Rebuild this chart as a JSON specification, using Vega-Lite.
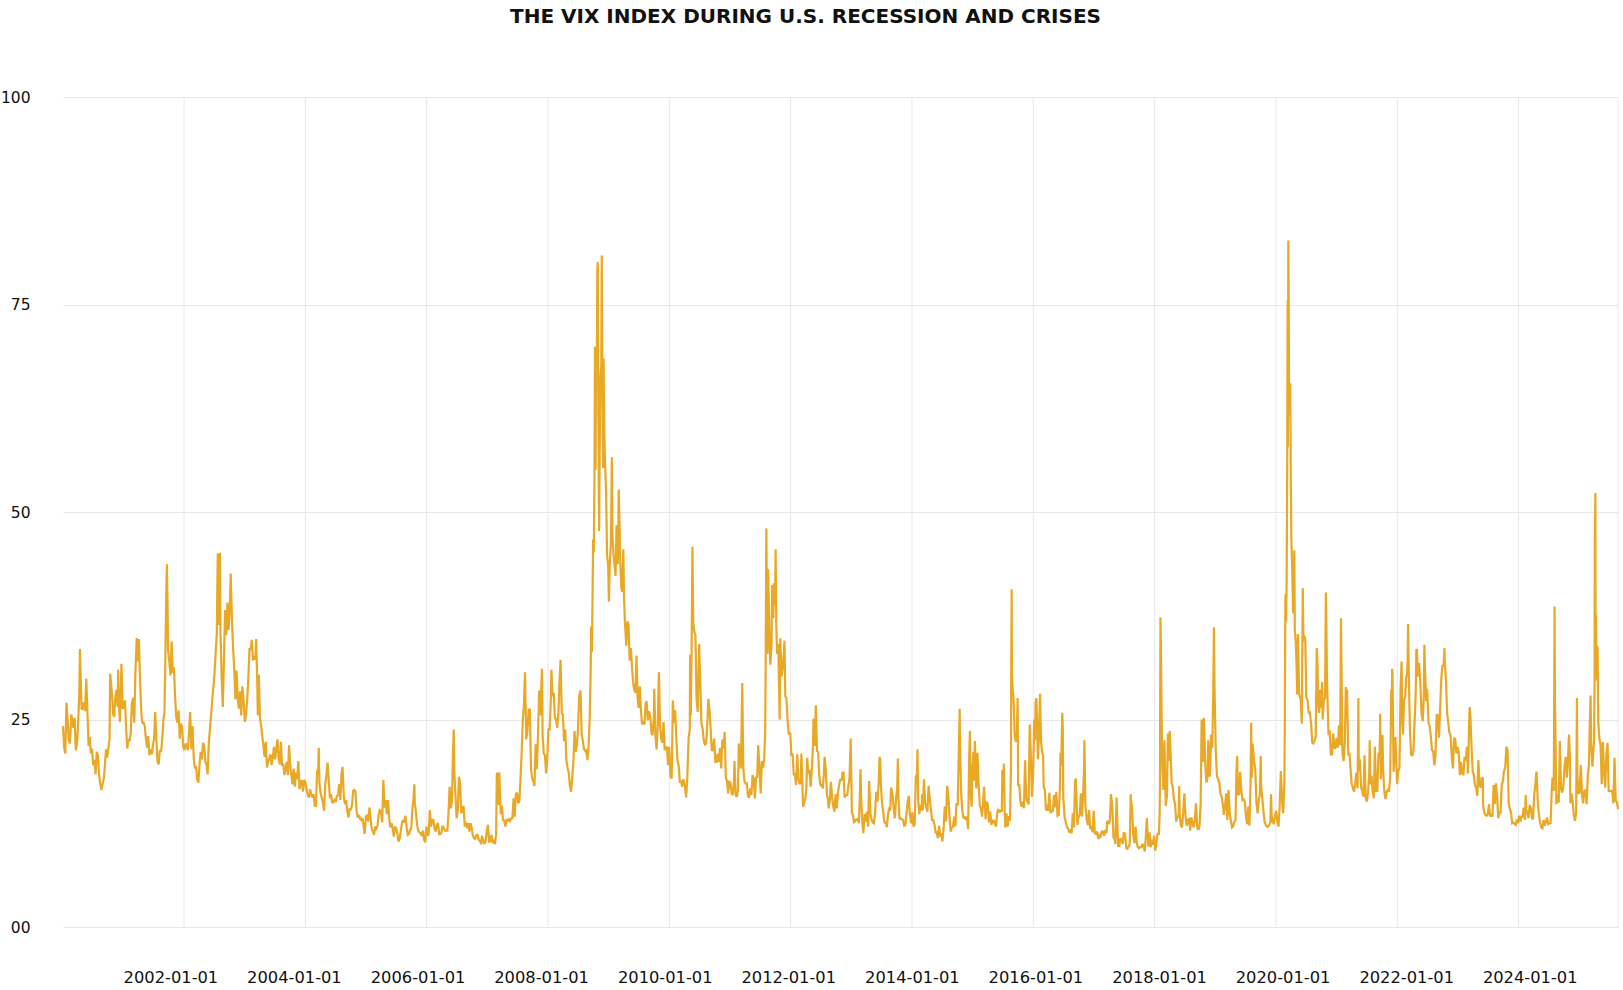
{
  "$schema": "https://vega.github.io/schema/vega-lite/v6.json",
  "width": 1555,
  "height": 830,
  "autosize": {"type": "none"},
  "padding": {"left": 63, "top": 97, "right": 5, "bottom": 63},
  "background": "white",
  "title": {
    "text": "THE VIX INDEX DURING U.S. RECESSION AND CRISES",
    "font": "DejaVu Sans",
    "fontSize": 20,
    "fontWeight": "bold",
    "color": "#111111",
    "anchor": "middle",
    "offset": 63,
    "dx": -35
  },
  "config": {
    "view": {"stroke": null},
    "font": "DejaVu Sans"
  },
  "datasets": {
    "grid": [
      {"t": "2002-01-01"}, {"t": "2004-01-01"}, {"t": "2006-01-01"}, {"t": "2008-01-01"},
      {"t": "2010-01-01"}, {"t": "2012-01-01"}, {"t": "2014-01-01"}, {"t": "2016-01-01"},
      {"t": "2018-01-01"}, {"t": "2020-01-01"}, {"t": "2022-01-01"}, {"t": "2024-01-01"},
      {"t": "2025-08-22"}
    ]
  },
  "resolve": {"scale": {"x": "independent"}, "axis": {"x": "independent"}},
  "layer": [
    {
      "data": {"name": "grid"},
      "mark": {"type": "rule", "color": "#e8e8e8", "strokeWidth": 1},
      "encoding": {
        "x": {
          "field": "t", "type": "temporal",
          "scale": {"domain": [{"year": 2000, "month": 1, "date": 3}, {"year": 2025, "month": 8, "date": 22}], "nice": false},
          "axis": null
        }
      }
    },
    {
      "data": {
        "values": "d,v\n2000-01-03,24.2\n2000-01-10,21.7\n2000-01-17,20.9\n2000-01-24,27.0\n2000-01-31,24.9\n2000-02-07,22.5\n2000-02-14,22.1\n2000-02-22,25.6\n2000-02-28,24.9\n2000-03-06,24.0\n2000-03-13,25.2\n2000-03-20,21.3\n2000-03-27,22.0\n2000-04-03,24.6\n2000-04-10,28.0\n2000-04-14,33.5\n2000-04-17,31.1\n2000-04-24,26.2\n2000-05-01,26.3\n2000-05-08,27.1\n2000-05-15,26.0\n2000-05-22,29.9\n2000-05-30,25.4\n2000-06-05,21.8\n2000-06-12,22.9\n2000-06-19,20.9\n2000-06-26,21.5\n2000-07-03,19.5\n2000-07-10,20.1\n2000-07-17,18.4\n2000-07-24,21.1\n2000-07-31,20.7\n2000-08-07,18.4\n2000-08-14,17.3\n2000-08-21,16.5\n2000-08-28,17.2\n2000-09-05,17.9\n2000-09-11,19.4\n2000-09-18,21.4\n2000-09-25,20.4\n2000-10-02,21.5\n2000-10-09,22.6\n2000-10-13,30.5\n2000-10-18,29.4\n2000-10-25,27.8\n2000-10-30,25.7\n2000-11-06,25.3\n2000-11-13,27.6\n2000-11-20,28.6\n2000-11-27,26.5\n2000-11-30,31.0\n2000-12-04,27.0\n2000-12-11,24.7\n2000-12-20,31.7\n2000-12-27,26.3\n2001-01-03,26.6\n2001-01-10,27.3\n2001-01-17,24.0\n2001-01-24,21.5\n2001-01-31,22.6\n2001-02-07,22.4\n2001-02-14,23.4\n2001-02-21,27.0\n2001-02-28,27.6\n2001-03-07,24.6\n2001-03-14,30.7\n2001-03-22,34.8\n2001-03-28,32.0\n2001-04-04,34.7\n2001-04-11,29.8\n2001-04-18,25.9\n2001-04-25,24.5\n2001-05-02,24.7\n2001-05-09,24.2\n2001-05-16,22.7\n2001-05-23,21.6\n2001-05-30,23.0\n2001-06-06,20.7\n2001-06-13,21.4\n2001-06-20,20.8\n2001-06-27,21.8\n2001-07-05,22.8\n2001-07-11,25.9\n2001-07-18,22.7\n2001-07-25,19.9\n2001-08-01,19.6\n2001-08-08,21.3\n2001-08-15,21.1\n2001-08-22,22.4\n2001-08-29,24.9\n2001-09-05,25.9\n2001-09-10,31.8\n2001-09-17,41.8\n2001-09-20,43.7\n2001-09-27,33.3\n2001-10-04,32.0\n2001-10-11,30.3\n2001-10-18,34.4\n2001-10-25,30.6\n2001-11-01,31.3\n2001-11-08,27.7\n2001-11-15,25.3\n2001-11-22,24.6\n2001-11-29,26.1\n2001-12-06,22.7\n2001-12-13,24.5\n2001-12-20,24.1\n2001-12-27,21.7\n2002-01-03,21.3\n2002-01-10,22.1\n2002-01-17,21.9\n2002-01-24,21.3\n2002-01-31,23.6\n2002-02-07,25.9\n2002-02-14,21.4\n2002-02-21,24.2\n2002-02-28,20.4\n2002-03-07,19.1\n2002-03-14,19.4\n2002-03-21,17.8\n2002-03-28,17.4\n2002-04-04,19.5\n2002-04-11,21.1\n2002-04-18,20.2\n2002-04-25,22.2\n2002-05-02,21.8\n2002-05-09,19.9\n2002-05-16,19.6\n2002-05-23,18.4\n2002-05-30,22.2\n2002-06-06,23.9\n2002-06-13,25.6\n2002-06-20,27.5\n2002-06-27,29.0\n2002-07-03,30.5\n2002-07-10,32.9\n2002-07-17,35.3\n2002-07-23,45.0\n2002-07-26,39.9\n2002-07-31,36.4\n2002-08-05,45.1\n2002-08-08,35.6\n2002-08-15,30.4\n2002-08-22,26.5\n2002-08-29,32.0\n2002-09-05,38.2\n2002-09-12,35.2\n2002-09-19,39.1\n2002-09-26,35.8\n2002-10-03,38.3\n2002-10-09,42.6\n2002-10-16,37.2\n2002-10-23,33.7\n2002-10-30,31.1\n2002-11-06,27.4\n2002-11-13,30.9\n2002-11-20,27.6\n2002-11-27,26.3\n2002-12-04,28.4\n2002-12-11,25.5\n2002-12-18,29.0\n2002-12-26,27.1\n2003-01-02,24.7\n2003-01-09,25.6\n2003-01-16,27.3\n2003-01-23,30.0\n2003-01-30,33.6\n2003-02-06,33.4\n2003-02-13,34.6\n2003-02-20,32.1\n2003-02-27,32.6\n2003-03-06,32.2\n2003-03-11,34.7\n2003-03-18,29.3\n2003-03-21,25.5\n2003-03-27,30.4\n2003-04-03,25.2\n2003-04-10,24.2\n2003-04-17,23.0\n2003-04-24,21.8\n2003-05-01,20.5\n2003-05-08,22.3\n2003-05-15,19.2\n2003-05-22,19.9\n2003-05-29,20.3\n2003-06-05,20.8\n2003-06-12,19.5\n2003-06-19,20.4\n2003-06-26,21.7\n2003-07-03,20.2\n2003-07-10,21.4\n2003-07-17,22.6\n2003-07-24,20.4\n2003-07-31,19.6\n2003-08-07,22.3\n2003-08-14,19.4\n2003-08-21,19.7\n2003-08-28,18.3\n2003-09-04,19.0\n2003-09-11,19.9\n2003-09-18,18.3\n2003-09-25,21.9\n2003-10-02,19.6\n2003-10-09,18.3\n2003-10-16,17.2\n2003-10-23,19.1\n2003-10-30,16.9\n2003-11-06,18.6\n2003-11-13,17.8\n2003-11-20,20.0\n2003-11-27,16.6\n2003-12-04,17.4\n2003-12-11,17.7\n2003-12-18,16.3\n2003-12-26,17.7\n2004-01-02,17.4\n2004-01-09,16.5\n2004-01-16,15.9\n2004-01-23,15.6\n2004-01-30,16.6\n2004-02-06,15.9\n2004-02-13,15.6\n2004-02-20,16.0\n2004-02-27,14.6\n2004-03-05,14.6\n2004-03-12,18.7\n2004-03-19,19.2\n2004-03-22,21.6\n2004-03-26,17.3\n2004-04-02,16.1\n2004-04-09,15.6\n2004-04-16,15.0\n2004-04-23,14.0\n2004-04-30,17.2\n2004-05-07,18.3\n2004-05-14,19.8\n2004-05-21,17.6\n2004-05-28,15.5\n2004-06-04,16.0\n2004-06-11,15.0\n2004-06-18,15.0\n2004-06-25,15.3\n2004-07-02,15.1\n2004-07-09,15.8\n2004-07-16,15.9\n2004-07-23,17.2\n2004-07-30,15.3\n2004-08-06,18.5\n2004-08-12,19.3\n2004-08-20,15.7\n2004-08-27,14.8\n2004-09-03,15.3\n2004-09-10,13.9\n2004-09-17,13.2\n2004-09-24,14.3\n2004-10-01,14.1\n2004-10-08,14.7\n2004-10-15,16.4\n2004-10-22,16.5\n2004-10-29,16.3\n2004-11-05,13.9\n2004-11-12,13.2\n2004-11-19,13.5\n2004-11-26,13.0\n2004-12-03,12.9\n2004-12-10,13.1\n2004-12-17,12.2\n2004-12-23,11.2\n2004-12-31,13.3\n2005-01-07,13.5\n2005-01-14,12.7\n2005-01-21,14.4\n2005-01-28,13.2\n2005-02-04,11.8\n2005-02-11,11.5\n2005-02-18,11.1\n2005-02-25,12.1\n2005-03-04,11.9\n2005-03-11,12.2\n2005-03-18,13.6\n2005-03-24,14.1\n2005-03-31,14.0\n2005-04-08,12.6\n2005-04-15,17.7\n2005-04-22,14.4\n2005-04-29,15.3\n2005-05-06,13.6\n2005-05-13,15.3\n2005-05-20,13.1\n2005-05-27,12.0\n2005-06-03,12.5\n2005-06-10,11.9\n2005-06-17,10.9\n2005-06-24,12.0\n2005-07-01,11.9\n2005-07-08,11.3\n2005-07-15,10.3\n2005-07-22,10.6\n2005-07-29,11.6\n2005-08-05,12.5\n2005-08-12,12.9\n2005-08-19,12.6\n2005-08-26,13.4\n2005-09-02,12.0\n2005-09-09,11.1\n2005-09-16,11.2\n2005-09-23,11.7\n2005-09-30,11.9\n2005-10-07,14.3\n2005-10-14,15.6\n2005-10-19,17.2\n2005-10-21,15.0\n2005-10-28,13.9\n2005-11-04,12.3\n2005-11-11,11.6\n2005-11-18,11.4\n2005-11-25,11.3\n2005-12-02,11.0\n2005-12-09,11.6\n2005-12-16,10.5\n2005-12-23,10.2\n2005-12-30,12.1\n2006-01-06,11.0\n2006-01-13,11.2\n2006-01-20,14.1\n2006-01-27,12.1\n2006-02-03,12.9\n2006-02-10,12.9\n2006-02-17,11.9\n2006-02-24,11.5\n2006-03-03,12.3\n2006-03-10,12.5\n2006-03-17,11.2\n2006-03-24,11.2\n2006-03-31,11.4\n2006-04-07,12.2\n2006-04-14,11.9\n2006-04-21,11.6\n2006-04-28,11.6\n2006-05-05,11.6\n2006-05-12,13.6\n2006-05-19,16.9\n2006-05-26,14.3\n2006-06-02,15.1\n2006-06-08,21.0\n2006-06-13,23.8\n2006-06-16,18.8\n2006-06-23,15.9\n2006-06-30,13.1\n2006-07-07,14.0\n2006-07-14,18.1\n2006-07-21,17.4\n2006-07-28,13.7\n2006-08-04,14.1\n2006-08-11,14.6\n2006-08-18,12.1\n2006-08-25,12.6\n2006-09-01,11.9\n2006-09-08,12.5\n2006-09-15,11.5\n2006-09-22,12.5\n2006-09-29,11.9\n2006-10-06,11.0\n2006-10-13,10.7\n2006-10-20,10.6\n2006-10-27,11.1\n2006-11-03,11.1\n2006-11-10,10.5\n2006-11-17,10.4\n2006-11-24,9.97\n2006-11-30,11.0\n2006-12-08,10.3\n2006-12-15,10.0\n2006-12-22,10.4\n2006-12-29,11.6\n2007-01-05,12.3\n2007-01-12,10.2\n2007-01-19,10.4\n2007-01-26,11.1\n2007-02-02,10.1\n2007-02-09,10.5\n2007-02-16,10.0\n2007-02-23,11.2\n2007-02-27,18.3\n2007-03-02,18.6\n2007-03-09,14.7\n2007-03-14,18.6\n2007-03-23,13.6\n2007-03-30,14.6\n2007-04-05,12.9\n2007-04-13,12.8\n2007-04-20,12.1\n2007-04-27,13.0\n2007-05-04,12.8\n2007-05-11,13.0\n2007-05-18,12.8\n2007-05-25,13.1\n2007-06-01,13.1\n2007-06-08,15.5\n2007-06-15,13.3\n2007-06-22,16.0\n2007-06-29,16.2\n2007-07-06,14.9\n2007-07-13,15.2\n2007-07-20,18.0\n2007-07-26,20.7\n2007-07-31,23.5\n2007-08-03,25.2\n2007-08-09,26.5\n2007-08-16,30.7\n2007-08-23,22.6\n2007-08-30,23.5\n2007-09-07,26.2\n2007-09-14,26.2\n2007-09-21,19.0\n2007-09-28,18.0\n2007-10-05,17.5\n2007-10-12,17.0\n2007-10-19,22.0\n2007-10-26,19.0\n2007-11-02,23.0\n2007-11-09,28.5\n2007-11-16,25.5\n2007-11-26,31.1\n2007-11-30,22.9\n2007-12-07,20.9\n2007-12-14,20.7\n2007-12-21,18.5\n2007-12-28,20.3\n2008-01-04,23.9\n2008-01-11,23.7\n2008-01-18,27.2\n2008-01-22,31.0\n2008-01-29,27.8\n2008-02-05,28.2\n2008-02-12,25.2\n2008-02-19,25.0\n2008-02-26,24.0\n2008-03-04,25.8\n2008-03-10,29.4\n2008-03-17,32.2\n2008-03-24,25.8\n2008-03-31,25.6\n2008-04-07,22.4\n2008-04-14,23.8\n2008-04-21,20.1\n2008-04-28,19.2\n2008-05-05,18.6\n2008-05-12,17.1\n2008-05-19,16.3\n2008-05-27,18.2\n2008-06-02,19.7\n2008-06-09,23.6\n2008-06-16,21.1\n2008-06-23,21.9\n2008-06-30,23.9\n2008-07-07,27.8\n2008-07-15,28.5\n2008-07-22,23.3\n2008-07-29,22.4\n2008-08-05,21.4\n2008-08-12,21.2\n2008-08-19,21.3\n2008-08-26,20.1\n2008-09-02,21.9\n2008-09-09,25.5\n2008-09-15,31.7\n2008-09-17,36.2\n2008-09-22,33.1\n2008-09-29,46.7\n2008-10-03,45.1\n2008-10-07,53.7\n2008-10-10,69.9\n2008-10-14,55.1\n2008-10-16,67.6\n2008-10-22,69.7\n2008-10-24,79.1\n2008-10-27,80.1\n2008-10-30,62.9\n2008-11-04,47.7\n2008-11-07,56.1\n2008-11-12,66.5\n2008-11-17,67.6\n2008-11-20,80.9\n2008-11-24,64.7\n2008-11-28,55.3\n2008-12-01,68.5\n2008-12-05,59.9\n2008-12-10,55.7\n2008-12-16,52.4\n2008-12-22,44.9\n2008-12-29,43.4\n2009-01-02,39.2\n2009-01-07,43.4\n2009-01-14,46.4\n2009-01-20,56.6\n2009-01-23,47.3\n2009-01-30,44.8\n2009-02-06,43.4\n2009-02-11,42.3\n2009-02-17,48.4\n2009-02-24,43.7\n2009-02-27,46.4\n2009-03-02,52.7\n2009-03-06,49.3\n2009-03-12,43.6\n2009-03-18,40.8\n2009-03-23,40.4\n2009-03-30,45.5\n2009-04-03,39.7\n2009-04-09,36.5\n2009-04-17,33.9\n2009-04-23,36.8\n2009-04-30,36.5\n2009-05-07,32.1\n2009-05-14,33.6\n2009-05-21,31.4\n2009-05-28,29.4\n2009-06-04,28.6\n2009-06-11,28.2\n2009-06-17,32.7\n2009-06-24,27.6\n2009-06-30,26.4\n2009-07-07,29.0\n2009-07-14,26.0\n2009-07-21,24.4\n2009-07-28,24.6\n2009-08-04,24.4\n2009-08-11,26.9\n2009-08-17,27.2\n2009-08-24,24.9\n2009-08-31,26.0\n2009-09-08,25.3\n2009-09-15,23.4\n2009-09-22,23.1\n2009-09-30,25.6\n2009-10-02,28.7\n2009-10-09,23.1\n2009-10-16,21.4\n2009-10-23,24.2\n2009-10-30,30.7\n2009-11-06,24.2\n2009-11-13,22.7\n2009-11-20,22.2\n2009-11-27,24.7\n2009-12-04,21.3\n2009-12-11,21.6\n2009-12-18,21.7\n2009-12-24,19.5\n2009-12-31,21.7\n2010-01-08,18.1\n2010-01-15,17.9\n2010-01-22,27.3\n2010-01-29,24.6\n2010-02-05,26.1\n2010-02-12,22.7\n2010-02-19,20.0\n2010-02-26,19.5\n2010-03-05,17.4\n2010-03-12,17.6\n2010-03-19,16.9\n2010-03-26,17.8\n2010-04-05,17.0\n2010-04-12,15.6\n2010-04-19,18.0\n2010-04-27,22.8\n2010-05-04,23.8\n2010-05-06,32.8\n2010-05-10,25.5\n2010-05-14,31.2\n2010-05-20,45.8\n2010-05-25,36.6\n2010-06-01,35.5\n2010-06-07,35.2\n2010-06-14,27.4\n2010-06-21,25.9\n2010-06-29,34.1\n2010-07-06,29.7\n2010-07-13,24.6\n2010-07-20,23.9\n2010-07-27,22.5\n2010-08-03,22.0\n2010-08-10,22.1\n2010-08-17,24.3\n2010-08-24,27.5\n2010-08-31,26.1\n2010-09-07,23.8\n2010-09-14,21.2\n2010-09-21,21.4\n2010-09-28,22.7\n2010-10-05,19.9\n2010-10-12,19.9\n2010-10-19,20.9\n2010-10-26,19.9\n2010-11-02,21.6\n2010-11-09,19.1\n2010-11-16,22.6\n2010-11-23,21.5\n2010-11-30,23.5\n2010-12-07,18.0\n2010-12-14,17.6\n2010-12-21,16.1\n2010-12-28,17.5\n2011-01-04,17.4\n2011-01-11,16.1\n2011-01-18,15.9\n2011-01-25,17.6\n2011-01-28,20.0\n2011-02-04,15.9\n2011-02-11,15.7\n2011-02-18,16.4\n2011-02-23,22.1\n2011-03-01,20.7\n2011-03-08,19.1\n2011-03-16,29.4\n2011-03-22,19.2\n2011-03-29,17.6\n2011-04-05,17.3\n2011-04-12,17.3\n2011-04-19,15.8\n2011-04-26,15.6\n2011-05-03,16.7\n2011-05-10,15.9\n2011-05-17,18.3\n2011-05-24,17.8\n2011-05-31,15.5\n2011-06-07,18.1\n2011-06-14,18.0\n2011-06-20,21.9\n2011-06-27,19.3\n2011-07-05,16.1\n2011-07-12,20.0\n2011-07-19,19.2\n2011-07-26,20.2\n2011-08-01,23.4\n2011-08-04,31.7\n2011-08-08,48.0\n2011-08-10,42.9\n2011-08-15,32.9\n2011-08-19,43.1\n2011-08-26,35.6\n2011-09-01,31.6\n2011-09-08,33.9\n2011-09-12,41.2\n2011-09-19,37.2\n2011-09-22,41.4\n2011-09-29,38.8\n2011-10-03,45.5\n2011-10-07,36.2\n2011-10-12,32.9\n2011-10-19,34.1\n2011-10-27,25.0\n2011-10-31,34.8\n2011-11-07,30.2\n2011-11-14,31.1\n2011-11-21,32.9\n2011-11-25,34.5\n2011-11-30,27.8\n2011-12-07,27.6\n2011-12-14,24.9\n2011-12-21,23.2\n2011-12-30,23.4\n2012-01-06,20.6\n2012-01-13,20.9\n2012-01-20,18.3\n2012-01-27,18.5\n2012-02-03,17.1\n2012-02-10,20.8\n2012-02-17,17.8\n2012-02-24,17.3\n2012-03-02,17.3\n2012-03-06,20.9\n2012-03-16,14.5\n2012-03-23,15.0\n2012-03-30,15.5\n2012-04-05,16.7\n2012-04-10,20.4\n2012-04-17,18.5\n2012-04-24,18.9\n2012-05-01,16.9\n2012-05-08,19.1\n2012-05-15,21.9\n2012-05-18,25.1\n2012-05-25,21.8\n2012-06-01,26.7\n2012-06-08,21.2\n2012-06-15,21.1\n2012-06-22,18.1\n2012-06-29,17.1\n2012-07-06,17.1\n2012-07-13,16.7\n2012-07-20,18.6\n2012-07-24,20.5\n2012-07-31,18.9\n2012-08-07,15.9\n2012-08-14,15.3\n2012-08-17,14.3\n2012-08-24,15.2\n2012-08-31,17.5\n2012-09-07,15.6\n2012-09-14,14.5\n2012-09-21,13.9\n2012-09-28,16.0\n2012-10-05,14.3\n2012-10-12,16.1\n2012-10-19,17.1\n2012-10-26,17.8\n2012-11-02,17.6\n2012-11-09,18.6\n2012-11-15,18.6\n2012-11-21,15.6\n2012-11-30,15.9\n2012-12-07,15.9\n2012-12-14,17.0\n2012-12-21,18.0\n2012-12-28,22.7\n2013-01-04,13.8\n2013-01-11,13.4\n2013-01-18,12.5\n2013-01-25,12.9\n2013-02-01,12.9\n2013-02-08,13.0\n2013-02-15,12.5\n2013-02-20,15.2\n2013-02-25,19.0\n2013-03-01,15.4\n2013-03-08,12.6\n2013-03-14,11.3\n2013-03-22,13.6\n2013-03-28,12.7\n2013-04-05,13.9\n2013-04-12,12.1\n2013-04-18,17.6\n2013-04-26,13.6\n2013-05-03,12.9\n2013-05-10,12.6\n2013-05-17,12.5\n2013-05-24,13.8\n2013-05-31,16.3\n2013-06-07,15.1\n2013-06-14,17.2\n2013-06-20,20.5\n2013-06-24,20.1\n2013-06-28,16.9\n2013-07-05,14.9\n2013-07-12,13.8\n2013-07-19,12.5\n2013-07-26,12.7\n2013-08-02,12.0\n2013-08-09,13.4\n2013-08-16,14.4\n2013-08-23,14.0\n2013-08-28,16.8\n2013-09-06,15.9\n2013-09-13,14.2\n2013-09-20,13.1\n2013-09-27,15.5\n2013-10-04,16.7\n2013-10-08,20.3\n2013-10-11,15.7\n2013-10-18,13.0\n2013-10-25,13.1\n2013-11-01,13.0\n2013-11-08,12.9\n2013-11-15,12.2\n2013-11-22,12.3\n2013-11-29,13.7\n2013-12-06,15.1\n2013-12-13,15.8\n2013-12-18,13.8\n2013-12-27,12.5\n2014-01-03,13.8\n2014-01-10,12.1\n2014-01-17,12.4\n2014-01-24,18.1\n2014-01-31,18.4\n2014-02-03,21.4\n2014-02-07,15.3\n2014-02-14,13.6\n2014-02-21,14.7\n2014-02-28,14.0\n2014-03-03,16.0\n2014-03-07,14.1\n2014-03-14,17.8\n2014-03-21,15.0\n2014-03-28,14.4\n2014-04-04,13.9\n2014-04-11,17.0\n2014-04-15,16.1\n2014-04-25,14.1\n2014-05-02,12.9\n2014-05-09,12.9\n2014-05-16,12.4\n2014-05-23,11.4\n2014-05-30,11.4\n2014-06-06,10.7\n2014-06-13,12.2\n2014-06-20,10.9\n2014-06-27,11.3\n2014-07-03,10.3\n2014-07-11,12.1\n2014-07-17,14.5\n2014-07-25,12.7\n2014-07-31,16.9\n2014-08-01,17.0\n2014-08-08,15.8\n2014-08-15,13.2\n2014-08-22,11.5\n2014-08-29,12.0\n2014-09-05,12.1\n2014-09-12,13.3\n2014-09-19,12.1\n2014-09-26,14.9\n2014-10-03,14.6\n2014-10-10,21.2\n2014-10-15,26.3\n2014-10-17,22.0\n2014-10-24,16.1\n2014-10-31,14.0\n2014-11-07,13.1\n2014-11-14,13.3\n2014-11-21,12.9\n2014-11-28,13.3\n2014-12-05,11.8\n2014-12-12,21.1\n2014-12-16,23.6\n2014-12-19,16.5\n2014-12-26,14.5\n2014-12-31,19.2\n2015-01-06,21.1\n2015-01-09,17.6\n2015-01-15,22.4\n2015-01-23,16.7\n2015-01-30,21.0\n2015-02-06,17.3\n2015-02-13,14.7\n2015-02-20,14.3\n2015-02-27,13.3\n2015-03-06,15.2\n2015-03-11,16.9\n2015-03-20,13.0\n2015-03-27,15.1\n2015-04-02,14.7\n2015-04-10,12.6\n2015-04-17,13.9\n2015-04-24,12.3\n2015-05-01,12.7\n2015-05-08,12.9\n2015-05-15,12.4\n2015-05-22,12.1\n2015-05-29,13.8\n2015-06-05,14.2\n2015-06-12,13.8\n2015-06-19,14.0\n2015-06-26,14.0\n2015-06-29,18.9\n2015-07-02,16.1\n2015-07-08,19.7\n2015-07-13,13.9\n2015-07-17,12.0\n2015-07-24,13.7\n2015-07-31,12.1\n2015-08-07,13.4\n2015-08-14,12.8\n2015-08-20,19.1\n2015-08-21,28.0\n2015-08-24,40.7\n2015-08-26,30.3\n2015-08-31,28.4\n2015-09-04,27.8\n2015-09-11,23.2\n2015-09-18,22.3\n2015-09-25,23.6\n2015-09-29,27.6\n2015-10-02,17.1\n2015-10-09,17.1\n2015-10-16,15.1\n2015-10-23,14.5\n2015-10-30,15.1\n2015-11-06,14.3\n2015-11-13,20.1\n2015-11-20,15.5\n2015-11-27,15.1\n2015-12-04,14.8\n2015-12-11,24.4\n2015-12-14,22.7\n2015-12-18,20.7\n2015-12-24,15.7\n2015-12-31,18.2\n2016-01-07,25.0\n2016-01-12,22.5\n2016-01-15,27.0\n2016-01-20,27.6\n2016-01-25,24.2\n2016-01-29,20.2\n2016-02-05,23.4\n2016-02-11,28.1\n2016-02-17,22.3\n2016-02-24,21.1\n2016-02-29,20.6\n2016-03-04,16.9\n2016-03-11,16.5\n2016-03-18,14.0\n2016-03-24,14.7\n2016-03-31,14.0\n2016-04-07,16.2\n2016-04-14,13.7\n2016-04-21,14.0\n2016-04-28,14.0\n2016-05-05,15.9\n2016-05-12,14.4\n2016-05-19,16.3\n2016-05-26,13.4\n2016-06-03,13.5\n2016-06-10,17.0\n2016-06-13,21.0\n2016-06-17,19.4\n2016-06-24,25.8\n2016-06-27,23.9\n2016-06-30,15.6\n2016-07-08,13.2\n2016-07-15,12.7\n2016-07-22,12.0\n2016-07-29,11.9\n2016-08-05,11.4\n2016-08-12,11.6\n2016-08-19,11.3\n2016-08-26,13.7\n2016-09-02,12.0\n2016-09-09,17.5\n2016-09-13,17.9\n2016-09-23,12.3\n2016-09-30,13.3\n2016-10-07,13.5\n2016-10-14,16.1\n2016-10-21,13.3\n2016-10-28,16.2\n2016-11-02,19.3\n2016-11-04,22.5\n2016-11-10,14.7\n2016-11-18,12.9\n2016-11-25,12.3\n2016-12-02,14.1\n2016-12-09,11.8\n2016-12-16,12.2\n2016-12-23,11.4\n2016-12-30,14.0\n2017-01-06,11.3\n2017-01-13,11.2\n2017-01-20,11.5\n2017-01-27,10.6\n2017-02-03,11.0\n2017-02-10,10.9\n2017-02-17,11.5\n2017-02-24,11.5\n2017-03-03,11.0\n2017-03-10,11.7\n2017-03-17,11.3\n2017-03-22,12.8\n2017-03-31,12.4\n2017-04-07,12.9\n2017-04-13,16.0\n2017-04-21,14.6\n2017-04-28,10.8\n2017-05-05,10.6\n2017-05-09,10.0\n2017-05-17,15.6\n2017-05-26,9.8\n2017-06-02,9.75\n2017-06-09,10.7\n2017-06-16,10.4\n2017-06-23,10.0\n2017-06-29,11.4\n2017-07-07,11.2\n2017-07-14,9.5\n2017-07-21,9.4\n2017-07-26,9.6\n2017-08-04,10.0\n2017-08-10,16.0\n2017-08-11,15.5\n2017-08-18,14.3\n2017-08-25,11.3\n2017-09-01,10.1\n2017-09-08,12.1\n2017-09-15,10.2\n2017-09-22,9.6\n2017-09-29,9.5\n2017-10-06,9.65\n2017-10-13,9.6\n2017-10-20,10.0\n2017-10-27,9.8\n2017-11-03,9.1\n2017-11-10,11.3\n2017-11-15,13.1\n2017-11-24,9.7\n2017-12-01,11.4\n2017-12-08,9.6\n2017-12-15,10.5\n2017-12-22,9.9\n2017-12-29,11.0\n2018-01-05,9.2\n2018-01-12,10.2\n2018-01-19,11.3\n2018-01-26,11.1\n2018-01-31,13.5\n2018-02-02,17.3\n2018-02-05,37.3\n2018-02-08,33.5\n2018-02-12,25.6\n2018-02-16,19.5\n2018-02-23,16.5\n2018-03-01,22.5\n2018-03-09,14.6\n2018-03-16,15.8\n2018-03-22,23.3\n2018-03-29,20.0\n2018-04-02,23.6\n2018-04-06,21.5\n2018-04-13,17.4\n2018-04-20,16.9\n2018-04-27,15.4\n2018-05-04,14.8\n2018-05-11,12.7\n2018-05-18,13.4\n2018-05-25,13.2\n2018-05-29,17.0\n2018-06-01,13.5\n2018-06-08,12.2\n2018-06-15,12.0\n2018-06-22,13.8\n2018-06-29,16.1\n2018-07-06,13.4\n2018-07-13,12.2\n2018-07-20,12.9\n2018-07-27,13.0\n2018-08-03,11.6\n2018-08-10,13.2\n2018-08-17,12.6\n2018-08-24,12.0\n2018-08-31,12.9\n2018-09-07,14.9\n2018-09-14,12.1\n2018-09-21,11.7\n2018-09-28,12.1\n2018-10-05,14.8\n2018-10-11,25.0\n2018-10-12,21.3\n2018-10-19,19.9\n2018-10-24,25.2\n2018-10-31,21.2\n2018-11-02,19.5\n2018-11-09,17.4\n2018-11-16,18.1\n2018-11-20,22.5\n2018-11-30,18.1\n2018-12-04,20.7\n2018-12-07,23.2\n2018-12-14,21.6\n2018-12-20,28.4\n2018-12-24,36.1\n2018-12-28,28.3\n2019-01-04,21.4\n2019-01-11,18.2\n2019-01-18,17.8\n2019-01-25,17.4\n2019-02-01,16.1\n2019-02-08,15.7\n2019-02-15,14.9\n2019-02-22,13.5\n2019-03-01,14.6\n2019-03-08,16.1\n2019-03-15,12.9\n2019-03-22,16.5\n2019-03-29,13.7\n2019-04-05,12.8\n2019-04-12,12.0\n2019-04-18,12.1\n2019-04-26,12.7\n2019-05-03,12.9\n2019-05-09,19.1\n2019-05-13,20.6\n2019-05-17,16.0\n2019-05-24,15.9\n2019-05-31,18.7\n2019-06-07,16.3\n2019-06-14,15.3\n2019-06-21,15.4\n2019-06-28,15.1\n2019-07-05,13.3\n2019-07-12,12.4\n2019-07-19,14.5\n2019-07-26,12.2\n2019-08-02,17.6\n2019-08-05,24.6\n2019-08-09,18.0\n2019-08-14,22.1\n2019-08-23,19.9\n2019-08-30,19.0\n2019-09-06,15.0\n2019-09-13,13.7\n2019-09-20,15.3\n2019-09-27,16.0\n2019-10-02,20.6\n2019-10-04,17.0\n2019-10-11,15.6\n2019-10-18,14.0\n2019-10-25,12.7\n2019-11-01,12.3\n2019-11-08,12.1\n2019-11-15,12.1\n2019-11-22,12.3\n2019-11-29,12.6\n2019-12-03,16.0\n2019-12-06,13.6\n2019-12-13,12.6\n2019-12-20,12.5\n2019-12-27,13.4\n2020-01-03,14.0\n2020-01-10,12.6\n2020-01-17,12.1\n2020-01-24,14.6\n2020-01-31,18.8\n2020-02-07,15.5\n2020-02-14,13.7\n2020-02-21,17.1\n2020-02-24,25.0\n2020-02-27,39.2\n2020-02-28,40.1\n2020-03-03,36.8\n2020-03-06,41.9\n2020-03-09,54.5\n2020-03-12,75.5\n2020-03-13,57.8\n2020-03-16,82.7\n2020-03-18,76.5\n2020-03-20,66.0\n2020-03-24,61.7\n2020-03-27,65.5\n2020-03-31,53.5\n2020-04-03,46.8\n2020-04-08,43.4\n2020-04-14,37.8\n2020-04-17,38.2\n2020-04-21,45.4\n2020-04-24,35.9\n2020-04-30,34.2\n2020-05-05,31.2\n2020-05-08,28.0\n2020-05-13,35.3\n2020-05-20,28.0\n2020-05-29,27.5\n2020-06-05,24.5\n2020-06-11,40.8\n2020-06-15,34.4\n2020-06-19,35.1\n2020-06-26,34.7\n2020-07-02,27.7\n2020-07-10,27.3\n2020-07-17,25.7\n2020-07-24,25.8\n2020-07-31,24.5\n2020-08-07,22.2\n2020-08-14,22.1\n2020-08-21,22.5\n2020-08-28,23.0\n2020-09-03,33.6\n2020-09-08,31.5\n2020-09-11,26.9\n2020-09-18,25.8\n2020-09-23,28.6\n2020-09-30,26.4\n2020-10-06,29.5\n2020-10-09,25.0\n2020-10-16,27.4\n2020-10-23,27.6\n2020-10-28,40.3\n2020-10-30,38.0\n2020-11-04,29.6\n2020-11-09,25.8\n2020-11-13,23.1\n2020-11-20,23.7\n2020-11-27,20.8\n2020-12-04,20.8\n2020-12-11,23.3\n2020-12-18,21.6\n2020-12-24,21.5\n2020-12-31,22.8\n2021-01-08,21.6\n2021-01-15,24.3\n2021-01-22,21.9\n2021-01-27,37.2\n2021-01-29,33.1\n2021-02-05,20.9\n2021-02-12,20.0\n2021-02-19,22.1\n2021-02-25,28.9\n2021-02-26,28.0\n2021-03-04,28.6\n2021-03-12,20.7\n2021-03-19,21.0\n2021-03-26,18.9\n2021-04-01,17.3\n2021-04-09,16.7\n2021-04-16,16.3\n2021-04-23,17.3\n2021-04-30,18.6\n2021-05-07,16.7\n2021-05-12,27.6\n2021-05-14,18.8\n2021-05-21,20.2\n2021-05-28,16.8\n2021-06-04,16.4\n2021-06-11,15.7\n2021-06-18,20.7\n2021-06-25,15.6\n2021-07-02,15.1\n2021-07-09,16.2\n2021-07-16,18.5\n2021-07-19,22.5\n2021-07-23,17.2\n2021-07-30,18.2\n2021-08-06,16.2\n2021-08-13,15.5\n2021-08-19,21.7\n2021-08-27,16.4\n2021-09-03,16.4\n2021-09-10,21.0\n2021-09-17,20.8\n2021-09-20,25.7\n2021-09-24,17.8\n2021-09-30,23.1\n2021-10-04,23.0\n2021-10-08,18.8\n2021-10-15,16.3\n2021-10-22,15.4\n2021-10-29,16.3\n2021-11-05,16.5\n2021-11-12,16.3\n2021-11-19,17.9\n2021-11-26,28.6\n2021-11-30,27.2\n2021-12-01,31.1\n2021-12-03,30.7\n2021-12-10,18.7\n2021-12-17,21.6\n2021-12-20,22.9\n2021-12-31,17.2\n2022-01-07,18.8\n2022-01-14,19.2\n2022-01-21,28.9\n2022-01-27,32.0\n2022-01-31,24.8\n2022-02-04,23.2\n2022-02-11,27.4\n2022-02-18,27.8\n2022-02-24,30.3\n2022-02-28,30.2\n2022-03-04,32.0\n2022-03-07,36.5\n2022-03-11,30.8\n2022-03-18,23.9\n2022-03-25,20.8\n2022-03-31,20.6\n2022-04-08,21.2\n2022-04-14,24.2\n2022-04-22,28.2\n2022-04-26,33.5\n2022-04-29,33.4\n2022-05-06,30.2\n2022-05-12,31.8\n2022-05-20,29.4\n2022-05-27,25.7\n2022-06-03,24.8\n2022-06-10,27.8\n2022-06-13,34.0\n2022-06-17,31.1\n2022-06-24,27.2\n2022-06-30,28.7\n2022-07-08,24.6\n2022-07-15,24.2\n2022-07-22,23.0\n2022-07-29,21.3\n2022-08-05,21.2\n2022-08-12,19.5\n2022-08-19,20.6\n2022-08-26,25.6\n2022-09-02,25.5\n2022-09-09,22.8\n2022-09-16,26.3\n2022-09-23,29.9\n2022-09-30,31.6\n2022-10-07,31.4\n2022-10-12,33.6\n2022-10-14,32.0\n2022-10-21,29.7\n2022-10-28,25.8\n2022-11-04,24.6\n2022-11-10,23.5\n2022-11-18,23.1\n2022-11-25,20.5\n2022-12-02,19.1\n2022-12-09,22.8\n2022-12-16,22.6\n2022-12-23,20.9\n2022-12-30,21.7\n2023-01-06,21.1\n2023-01-13,18.3\n2023-01-20,19.9\n2023-01-27,18.5\n2023-02-03,18.3\n2023-02-10,20.5\n2023-02-17,20.0\n2023-02-24,21.7\n2023-03-03,18.5\n2023-03-10,24.8\n2023-03-13,26.5\n2023-03-17,25.5\n2023-03-24,21.7\n2023-03-31,18.7\n2023-04-06,18.4\n2023-04-14,17.1\n2023-04-21,16.8\n2023-04-28,15.8\n2023-05-04,20.1\n2023-05-12,17.0\n2023-05-19,16.8\n2023-05-26,18.0\n2023-05-31,17.9\n2023-06-02,14.6\n2023-06-09,13.8\n2023-06-16,13.5\n2023-06-23,13.4\n2023-06-30,13.6\n2023-07-07,14.8\n2023-07-14,13.3\n2023-07-21,13.6\n2023-07-28,13.3\n2023-08-04,17.1\n2023-08-11,14.8\n2023-08-18,17.3\n2023-08-25,15.7\n2023-09-01,13.1\n2023-09-08,13.8\n2023-09-15,13.8\n2023-09-22,17.2\n2023-09-29,17.5\n2023-10-04,18.6\n2023-10-13,19.3\n2023-10-20,21.7\n2023-10-27,21.3\n2023-11-03,14.9\n2023-11-10,14.2\n2023-11-17,13.8\n2023-11-24,12.5\n2023-12-01,12.6\n2023-12-08,12.4\n2023-12-15,12.3\n2023-12-22,13.0\n2023-12-29,12.5\n2024-01-05,13.4\n2024-01-12,12.7\n2024-01-19,13.3\n2024-01-26,13.3\n2024-01-31,14.4\n2024-02-09,12.9\n2024-02-13,15.9\n2024-02-16,14.2\n2024-02-23,13.8\n2024-03-01,13.1\n2024-03-08,14.7\n2024-03-15,14.4\n2024-03-22,13.1\n2024-03-28,13.0\n2024-04-05,16.0\n2024-04-12,17.3\n2024-04-16,18.4\n2024-04-19,18.7\n2024-04-26,15.0\n2024-05-03,13.5\n2024-05-10,12.6\n2024-05-17,12.0\n2024-05-24,11.9\n2024-05-31,12.9\n2024-06-07,12.2\n2024-06-14,12.7\n2024-06-21,13.2\n2024-06-28,12.4\n2024-07-05,12.5\n2024-07-12,12.5\n2024-07-19,16.5\n2024-07-24,18.0\n2024-07-31,16.4\n2024-08-02,23.4\n2024-08-05,38.6\n2024-08-07,27.9\n2024-08-12,20.7\n2024-08-16,14.8\n2024-08-23,15.9\n2024-08-30,15.0\n2024-09-06,22.4\n2024-09-13,16.6\n2024-09-20,16.2\n2024-09-27,17.0\n2024-10-04,19.2\n2024-10-11,20.5\n2024-10-18,18.0\n2024-10-25,20.3\n2024-10-31,23.2\n2024-11-05,20.5\n2024-11-08,14.9\n2024-11-15,16.1\n2024-11-22,15.2\n2024-11-29,13.5\n2024-12-06,12.8\n2024-12-13,13.8\n2024-12-18,27.6\n2024-12-20,18.4\n2024-12-27,16.0\n2024-12-31,17.4\n2025-01-03,16.1\n2025-01-10,19.5\n2025-01-17,16.0\n2025-01-24,14.9\n2025-01-31,16.4\n2025-02-07,16.5\n2025-02-14,14.8\n2025-02-21,18.2\n2025-02-28,19.6\n2025-03-04,23.5\n2025-03-10,27.9\n2025-03-14,21.8\n2025-03-21,19.3\n2025-03-28,21.7\n2025-03-31,22.3\n2025-04-03,30.0\n2025-04-04,45.3\n2025-04-08,52.3\n2025-04-09,33.6\n2025-04-11,37.6\n2025-04-17,29.7\n2025-04-21,33.8\n2025-04-25,24.8\n2025-05-02,22.7\n2025-05-09,21.9\n2025-05-16,17.2\n2025-05-23,22.3\n2025-05-30,18.6\n2025-06-06,16.8\n2025-06-13,20.8\n2025-06-20,22.2\n2025-06-27,16.3\n2025-07-03,16.4\n2025-07-11,16.4\n2025-07-18,16.4\n2025-07-25,14.9\n2025-08-01,20.4\n2025-08-08,15.2\n2025-08-15,15.1\n2025-08-22,14.2",
        "format": {"type": "csv", "parse": {"d": "date", "v": "number"}}
      },
      "mark": {"type": "line", "color": "#E9A825", "strokeWidth": 2.2, "strokeJoin": "miter", "strokeMiterLimit": 2},
      "encoding": {
        "x": {
          "field": "d", "type": "temporal",
          "scale": {"domain": [{"year": 2000, "month": 1, "date": 3}, {"year": 2025, "month": 8, "date": 22}], "nice": false},
          "axis": null
        },
        "y": {
          "field": "v", "type": "quantitative",
          "scale": {"domain": [0, 100], "nice": false, "zero": true},
          "axis": {
            "title": null,
            "values": [0, 25, 50, 75, 100],
            "format": "02d",
            "grid": true,
            "gridColor": "#e8e8e8",
            "gridWidth": 1,
            "ticks": false,
            "domain": false,
            "labelPadding": 33,
            "labelFont": "DejaVu Sans",
            "labelFontSize": 15.5,
            "labelColor": "#111111"
          }
        }
      }
    },
    {
      "data": {"name": "grid"},
      "mark": {"type": "point", "opacity": 0},
      "encoding": {
        "x": {
          "field": "t", "type": "temporal",
          "scale": {"domain": [{"year": 2000, "month": 4, "date": 6}, {"year": 2025, "month": 6, "date": 6}], "nice": false},
          "axis": {
            "orient": "bottom",
            "title": null,
            "values": [
              {"year": 2002, "month": 1, "date": 1}, {"year": 2004, "month": 1, "date": 1},
              {"year": 2006, "month": 1, "date": 1}, {"year": 2008, "month": 1, "date": 1},
              {"year": 2010, "month": 1, "date": 1}, {"year": 2012, "month": 1, "date": 1},
              {"year": 2014, "month": 1, "date": 1}, {"year": 2016, "month": 1, "date": 1},
              {"year": 2018, "month": 1, "date": 1}, {"year": 2020, "month": 1, "date": 1},
              {"year": 2022, "month": 1, "date": 1}, {"year": 2024, "month": 1, "date": 1}
            ],
            "format": "%Y-%m-%d",
            "grid": false,
            "ticks": false,
            "tickSize": 0,
            "domain": false,
            "labelPadding": 42,
            "labelFont": "DejaVu Sans",
            "labelFontSize": 16.3,
            "labelColor": "#111111",
            "labelFlush": false,
            "labelOverlap": false
          }
        }
      }
    }
  ]
}
